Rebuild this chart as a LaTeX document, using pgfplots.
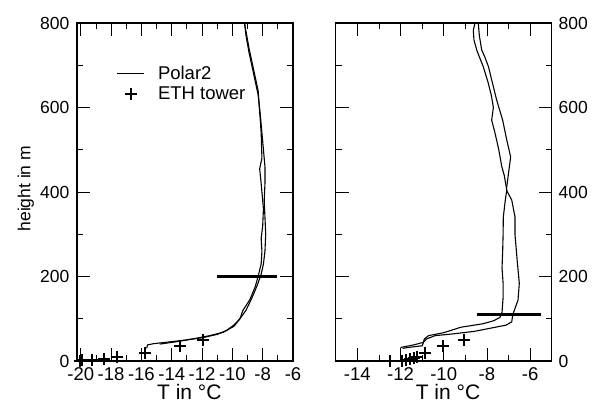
\documentclass[border=0pt]{standalone}
\usepackage{fontspec}
\setmainfont{Liberation Sans}
\usepackage{pgfplots}
\pgfplotsset{compat=1.18}
\begin{document}
\begin{tikzpicture}
\useasboundingbox (0,0) rectangle (597bp,403bp);
\pgfplotsset{
  myaxis/.style={
    scale only axis, width=216bp, height=338bp,
    ymin=0, ymax=800, ytick={0,200,400,600,800}, minor ytick={100,300,500,700},
    yticklabels={0,200,400,600,800},
    axis line style={line width=1.3bp},
    major tick length=13bp, minor tick length=6bp,
    every tick/.style={black, line width=0.8bp},
    tick align=inside,
    xtick pos=both, ytick pos=both,
    xticklabel pos=bottom,
    xticklabel style={font=\fontsize{18.5bp}{21bp}\selectfont, inner sep=0bp, anchor=base, yshift=-19.3bp},
    yticklabel style={font=\fontsize{17.5bp}{21bp}\selectfont, inner sep=0bp},
    xlabel={T in °C},
    xlabel style={font=\fontsize{21bp}{24bp}\selectfont, inner sep=0bp,
      at={(axis description cs:0.52,-0.114)}, anchor=base},
    clip=false,
  },
  polar/.style={black, line width=1.1bp, no marks},
  eth/.style={black, only marks, mark=+, mark size=6bp, mark options={line width=2bp}},
  polarleg/.style={legend image code/.code={\draw[##1] (0bp,0bp) -- (27bp,0bp);}},
  ethleg/.style={legend image code/.code={\draw[mark repeat=2,mark phase=2,##1] plot coordinates {(0bp,0bp) (13.5bp,0bp) (27bp,0bp)};}},
}
\begin{axis}[myaxis, at={(77bp,42bp)}, anchor=south west,
  xmin=-20.25, xmax=-6,
  xtick={-20,-18,-16,-14,-12,-10,-8,-6},
  xticklabels={-20,-18,-16,-14,-12,-10,-8,-6},
  minor xtick={-19,-17,-15,-13,-11,-9,-7},
  yticklabel pos=left,
  yticklabel style={xshift=-7.5bp},
  ylabel={height in m},
  ylabel style={font=\fontsize{17.5bp}{21bp}\selectfont, inner sep=0bp,
    at={(axis description cs:-0.2153,0.51)}, anchor=base},
  legend style={draw=none, fill=none, at={(0.17,0.886)}, anchor=north west,
    font=\fontsize{18.5bp}{21bp}\selectfont, row sep=2bp, column sep=11bp},
  legend cell align=left,
]
\addplot[polar, polarleg] coordinates {
(-15.65,30) (-15.6,38) (-15.2,41) (-14.2,45) (-13,50) (-12,55) (-11.0,63) (-10.4,72)
(-9.9,85) (-9.5,100) (-9.1,120) (-8.7,150) (-8.35,180) (-8.1,205) (-7.95,230)
(-7.85,260) (-7.8,300) (-7.85,340) (-7.9,380) (-7.85,420) (-7.85,460) (-7.95,500)
(-8.05,540) (-8.15,580) (-8.3,630) (-8.6,680) (-8.9,730) (-9.1,770) (-9.2,800)};
\addlegendentry{Polar2}
\addplot[eth, ethleg] coordinates {
(-20.05,0) (-19.95,2) (-19.24,2) (-18.45,4) (-17.63,10) (-15.76,20) (-13.46,36) (-11.96,50)};
\addlegendentry{ETH tower}
\addplot[polar, forget plot] coordinates {
(-14.8,40) (-13.8,45) (-12.5,53) (-11.5,60) (-10.6,68) (-9.9,82) (-9.5,100)
(-9.3,120) (-8.85,145) (-8.5,175) (-8.3,200) (-8.1,230) (-8.05,260) (-8.1,290)
(-8.0,320) (-7.95,360) (-8.0,380) (-8.1,420) (-8.2,455) (-8.05,480) (-8.1,540)
(-8.2,590) (-8.3,640) (-8.6,690) (-8.9,740) (-9.2,800)};
\addplot[black, line width=3bp, forget plot] coordinates {(-11.04,200) (-7.08,200)};
\end{axis}
\begin{axis}[myaxis, at={(335.7bp,42bp)}, anchor=south west,
  xmin=-15, xmax=-5,
  xtick={-14,-12,-10,-8,-6},
  xticklabels={-14,-12,-10,-8,-6},
  minor xtick={-15,-13,-11,-9,-7,-5},
  yticklabel pos=right,
  yticklabel style={xshift=6.8bp},
]
\addplot[polar] coordinates {
(-11.9,30) (-11.5,33) (-11.0,36) (-10.95,42) (-10.9,52) (-10.7,60) (-10.0,67)
(-9.2,80) (-8.2,88) (-7.7,95) (-7.4,103) (-7.3,115) (-7.25,150) (-7.25,184)
(-7.3,220) (-7.27,260) (-7.25,300) (-7.24,341) (-7.15,380) (-7.08,405) (-7.2,440)
(-7.31,460) (-7.45,500) (-7.55,523) (-7.65,545) (-7.78,570) (-7.7,600) (-7.8,630)
(-7.95,660) (-8.17,697) (-8.35,720) (-8.47,736) (-8.6,760) (-8.63,783) (-8.55,800)};
\addplot[polar] coordinates {
(-12.0,32) (-11.4,38) (-10.95,44) (-10.8,52) (-10.4,60) (-9.6,64) (-8.6,70)
(-7.8,78) (-7.1,85) (-6.85,93) (-6.8,110) (-6.56,144) (-6.5,184) (-6.6,239)
(-6.7,300) (-6.7,341) (-6.85,381) (-7.1,405) (-7.0,444) (-6.9,483) (-7.08,523)
(-7.27,570) (-7.55,618) (-7.93,697) (-8.1,720) (-8.24,736) (-8.35,770) (-8.40,800)};
\addplot[eth] coordinates {
(-12.49,0) (-11.94,1) (-11.75,2) (-11.56,4) (-11.38,6) (-11.25,10) (-10.87,20)
(-10.02,36) (-9.06,50)};
\addplot[black, line width=3bp] coordinates {(-8.47,110) (-5.51,110)};
\end{axis}
\end{tikzpicture}
\end{document}
